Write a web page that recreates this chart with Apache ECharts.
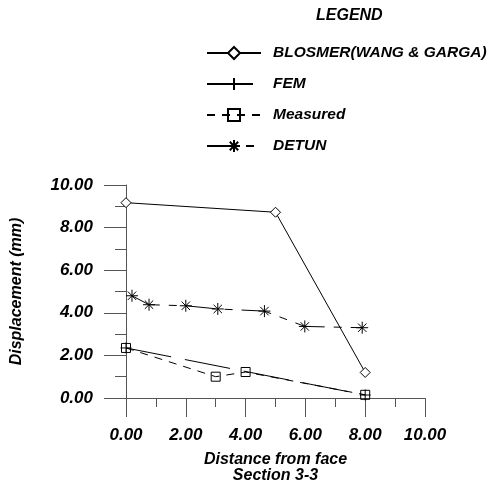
<!DOCTYPE html>
<html>
<head>
<meta charset="utf-8">
<script src="https://cdn.jsdelivr.net/npm/echarts@6/dist/echarts.min.js"></script>
<style>
    html, body { margin: 0; padding: 0; background: #fff; }
    #main { width: 490px; height: 485px; }
</style>
</head>
<body>
<div id="main"></div>
<script>
// 数据
var seriesNames = ['BLOSMER(WANG & GARGA)', 'FEM', 'Measured', 'DETUN'];
var blosmerX = [0, 5, 8];
var blosmerY = [9.17, 8.72, 1.2];
var femX = [0, 8];
var femY = [2.35, 0.14];
var measuredX = [0, 3, 4, 8];
var measuredY = [2.35, 1.0, 1.22, 0.15];
var detunX = [0.2, 0.77, 2.0, 3.07, 4.63, 5.98, 7.9];
var detunY = [4.8, 4.38, 4.33, 4.18, 4.08, 3.36, 3.3];

function pairs(xs, ys) {
    var out = [];
    for (var i = 0; i < xs.length; i++) {
        out.push([xs[i], ys[i]]);
    }
    return out;
}

var fontFam = '"Liberation Sans", Arial, sans-serif';
var plusPath = 'path://M0,5L10,5M5,0L5,10';
var starPath = 'path://M0,5L10,5M5,0L5,10M1.5,1.5L8.5,8.5M8.5,1.5L1.5,8.5';
var axisColor = '#555';

var markStyle = {
    color: '#fff',
    borderColor: '#000',
    borderWidth: 1
};

var option = {
    animation: false,
    backgroundColor: '#fff',
    title: {
        text: 'LEGEND',
        left: 311,
        top: 3,
        textStyle: {
            fontFamily: fontFam,
            fontSize: 16,
            fontWeight: 'bold',
            fontStyle: 'italic',
            color: '#000'
        }
    },
    legend: {
        orient: 'vertical',
        left: 201,
        top: 40,
        itemWidth: 54,
        itemHeight: 15,
        itemGap: 15,
        data: seriesNames,
        textStyle: {
            fontFamily: fontFam,
            fontSize: 15.5,
            fontWeight: 'bold',
            fontStyle: 'italic',
            color: '#000',
            padding: [0, 0, 0, 7]
        }
    },
    grid: {
        left: 126,
        right: 65,
        top: 185,
        bottom: 86.5,
        containLabel: false
    },
    xAxis: {
        type: 'value',
        min: 0,
        max: 10,
        interval: 2,
        name: 'Distance from face\nSection 3-3',
        nameLocation: 'middle',
        nameGap: 54,
        nameTextStyle: {
            fontFamily: fontFam,
            fontSize: 16,
            fontWeight: 'bold',
            fontStyle: 'italic',
            color: '#000',
            lineHeight: 16
        },
        axisLine: { onZero: false, lineStyle: { color: axisColor, width: 1 } },
        axisTick: { show: true, length: 19, lineStyle: { color: axisColor } },
        minorTick: { show: true, splitNumber: 2, length: 9, lineStyle: { color: axisColor } },
        splitLine: { show: false },
        axisLabel: {
            margin: 29,
            fontFamily: fontFam,
            fontSize: 17,
            fontWeight: 'bold',
            fontStyle: 'italic',
            color: '#000',
            formatter: function (v) { return v.toFixed(2); }
        }
    },
    yAxis: {
        type: 'value',
        min: 0,
        max: 10,
        interval: 2,
        name: 'Displacement (mm)',
        nameLocation: 'middle',
        nameGap: 101,
        nameTextStyle: {
            fontFamily: fontFam,
            fontSize: 16,
            fontWeight: 'bold',
            fontStyle: 'italic',
            color: '#000'
        },
        axisLine: { onZero: false, lineStyle: { color: axisColor, width: 1 } },
        axisTick: { show: true, length: 22, lineStyle: { color: axisColor } },
        minorTick: { show: true, splitNumber: 2, length: 11, lineStyle: { color: axisColor } },
        splitLine: { show: false },
        axisLabel: {
            margin: 33,
            fontFamily: fontFam,
            fontSize: 17,
            fontWeight: 'bold',
            fontStyle: 'italic',
            color: '#000',
            formatter: function (v) { return v.toFixed(2); }
        }
    },
    series: [{
            name: seriesNames[0],
            type: 'line',
            data: pairs(blosmerX, blosmerY),
            symbol: 'diamond',
            symbolSize: 10,
            lineStyle: { color: '#000', width: 1 },
            itemStyle: markStyle
        },
        {
            name: seriesNames[1],
            type: 'line',
            data: pairs(femX, femY),
            symbol: plusPath,
            symbolSize: 11,
            lineStyle: { color: '#000', width: 1, type: [46, 14] },
            itemStyle: markStyle,
            z: 3
        },
        {
            name: seriesNames[2],
            type: 'line',
            data: pairs(measuredX, measuredY),
            symbol: 'rect',
            symbolSize: 9,
            lineStyle: { color: '#000', width: 1, type: [8, 7] },
            itemStyle: { color: 'rgba(255,255,255,0)', borderColor: '#000', borderWidth: 1 },
            z: 4
        },
        {
            name: seriesNames[3],
            type: 'line',
            data: pairs(detunX, detunY),
            symbol: starPath,
            symbolSize: 12,
            lineStyle: { color: '#000', width: 1, type: [30, 9, 8, 9] },
            itemStyle: markStyle
        }
    ]
};

var chart = echarts.init(document.getElementById('main'), null, { renderer: 'canvas' });
chart.setOption(option);
</script>
</body>
</html>
